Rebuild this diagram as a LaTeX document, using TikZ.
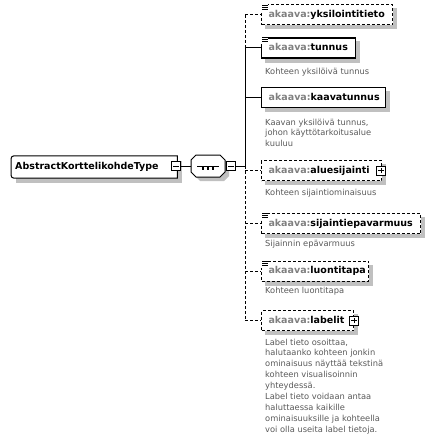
\documentclass[tikz,border=0pt]{standalone}
\usepackage{fontspec}
\setmainfont{DejaVu Sans}
\definecolor{shadowgray}{RGB}{192,192,192}
\definecolor{prefixgray}{RGB}{128,128,128}
\definecolor{descgray}{RGB}{90,90,90}
\newcommand{\nm}[2]{\makebox[#1][l]{\textcolor{prefixgray}{akaava:}#2}}
\pgfdeclarelayer{bg}
\pgfsetlayers{bg,main}
\begin{document}
\begin{tikzpicture}[x=1pt,y=-1pt,
  conn/.style={line width=1pt},
  optline/.style={line width=1pt, dash pattern=on 3pt off 2pt},
  elem/.style={fill=white, anchor=west, minimum height=20pt, inner xsep=7pt, inner ysep=0pt,
    text height=7.2pt, text depth=2pt, font=\fontsize{9.5}{11}\selectfont\bfseries},
  opt/.style={elem, draw=black, line width=1pt, dash pattern=on 3pt off 2pt},
  req/.style={elem, draw=black, line width=1.4pt},
  mainbox/.style={fill=white, anchor=west, minimum height=22pt, inner xsep=4pt, inner ysep=0pt,
    text height=7.2pt, text depth=2pt, font=\fontsize{9.5}{11}\selectfont\bfseries},
  exp/.style={draw=black, fill=white, minimum size=9pt, inner sep=0pt, line width=0.9pt},
  sign/.style={line width=0.9pt},
  desc/.style={anchor=north west, inner sep=0pt, align=left, text=descgray, font=\fontsize{8.3}{10.9}\selectfont},
  icon/.style={line width=0.9pt},
  shadowfill/.style={fill=shadowgray}
]
\useasboundingbox (0,0) rectangle (435,441);

% main type box
\node[mainbox] (main) at (11,167) {\makebox[158pt][l]{AbstractKorttelikohdeType}};
\draw[line width=1pt] (main.south east) -- (main.north east) [rounded corners=3pt] -- (main.north west) -- (main.south west) [sharp corners] -- cycle;
\node[exp] (m1) at (176,166) {};
\draw[sign] ([xshift=-2.7pt]m1.center) -- ([xshift=2.7pt]m1.center);

% sequence compositor
\node[minimum width=34pt, minimum height=22pt, inner sep=0pt] (seq) at (208,166) {};
\fill[shadowgray, shift={(4,4)}] (196,155) -- (220,155) -- (225,160) -- (225,172) -- (220,177) -- (196,177) -- (191,172) -- (191,160) -- cycle;
\draw[fill=white, line width=1pt] (196,155) -- (220,155) -- (225,160) -- (225,172) -- (220,177) -- (196,177) -- (191,172) -- (191,160) -- cycle;
\draw[line width=1pt] ([xshift=-11pt]seq.center) -- ([xshift=11pt]seq.center);
\foreach \dx in {-5,0,5} \fill ([xshift=\dx pt-1.25pt, yshift=-1.25pt]seq.center) rectangle ++(2.5,2.5);
\node[exp] (m2) at (231,166) {};
\draw[sign] ([xshift=-2.7pt]m2.center) -- ([xshift=2.7pt]m2.center);
\draw[conn] (m1.east) -- (seq.west);

% trunk coordinates
\coordinate (j1) at (245,15);
\coordinate (j2) at (245,48);
\coordinate (j3) at (245,97.5);
\coordinate (tj) at (245,166);
\coordinate (j4) at (245,170.5);
\coordinate (j5) at (245,223.5);
\coordinate (j6) at (245,271);
\coordinate (j7) at (245,320.5);
\draw[conn] (m2.east) -- (tj);
\draw[optline] (j1) -- (j2);
\draw[conn] (j2) -- (tj);
\draw[optline] (tj) -- (j7);

% element boxes
\node[opt] (b1) at (261,15) {\nm{117pt}{yksilointitieto}};
\node[req] (b2) at (261,48) {\nm{80pt}{tunnus}};
\node[req] (b3) at (261,97.5) {\nm{110pt}{kaavatunnus}};
\node[opt] (b4) at (261,170.5) {\nm{106pt}{aluesijainti}};
\node[opt] (b5) at (261,223.5) {\nm{145pt}{sijaintiepavarmuus}};
\node[opt] (b6) at (261,271) {\nm{93pt}{luontitapa}};
\node[opt] (b7) at (261,320.5) {\nm{78pt}{labelit}};

% shadows and background
\begin{pgfonlayer}{bg}
  \fill[white] (0,0) rectangle (435,441);
  \fill[shadowfill] ([shift={(5,5)}]main.north west) rectangle ([shift={(5,5)}]main.south east);
  \foreach \n in {b1,b2,b3,b4,b5,b6,b7}
    \fill[shadowfill] ([shift={(4,4)}]\n.north west) rectangle ([shift={(4,4)}]\n.south east);
\end{pgfonlayer}

% branches
\draw[optline] (j1) -- (b1.west);
\draw[conn] (j2) -- (b2.west);
\draw[conn] (j3) -- (b3.west);
\draw[optline] (j4) -- (b4.west);
\draw[optline] (j5) -- (b5.west);
\draw[optline] (j6) -- (b6.west);
\draw[optline] (j7) -- (b7.west);

% simple-content icons
\foreach \n in {b1,b2,b5,b6} {
  \fill[white] ([xshift=-1pt, yshift=1.5pt]\n.north west) rectangle ++(8,8.5);
  \foreach \k in {0.6,2.6,4.6}
    \draw[icon] ([xshift=1pt, yshift=-\k pt]\n.north west) -- ++(5.5,0);
}

% expand (plus) boxes
\node[exp] (p4) at ([xshift=-1pt]b4.east) {};
\draw[sign] ([xshift=-2.7pt]p4.center) -- ([xshift=2.7pt]p4.center);
\draw[sign] ([yshift=-2.7pt]p4.center) -- ([yshift=2.7pt]p4.center);
\node[exp] (p7) at (b7.east) {};
\draw[sign] ([xshift=-2.7pt]p7.center) -- ([xshift=2.7pt]p7.center);
\draw[sign] ([yshift=-2.7pt]p7.center) -- ([yshift=2.7pt]p7.center);

% descriptions
\node[desc] (d2) at (265,67.5) {Kohteen yksilöivä tunnus};
\node[desc] (d3) at (265,118.5) {Kaavan yksilöivä tunnus,\\johon käyttötarkoitusalue\\kuuluu};
\node[desc] (d4) at (265,188.5) {Kohteen sijaintiominaisuus};
\node[desc] (d5) at (265,239.5) {Sijainnin epävarmuus};
\node[desc] (d6) at (265,286.5) {Kohteen luontitapa};
\node[desc] (d7) at (265,338.5) {Label tieto osoittaa,\\halutaanko kohteen jonkin\\ominaisuus näyttää tekstinä\\kohteen visualisoinnin\\yhteydessä.\\Label tieto voidaan antaa\\haluttaessa kaikille\\ominaisuuksille ja kohteella\\voi olla useita label tietoja.};
\end{tikzpicture}
\end{document}
